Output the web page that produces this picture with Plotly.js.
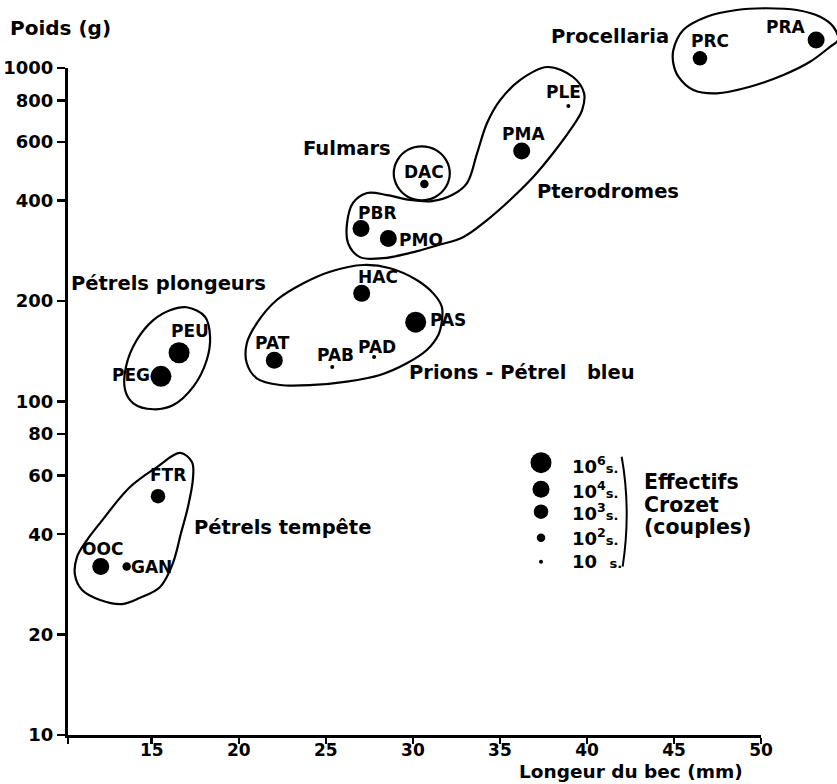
<!DOCTYPE html>
<html>
<head>
<meta charset="utf-8">
<script src="https://cdn.plot.ly/plotly-3.0.1.min.js"></script>
<style>html,body{margin:0;padding:0;background:#fff;}#chart{width:837px;height:784px;}</style>
</head>
<body>
<div id="chart"></div>
<script>
// ---------- data ----------
const species = ['PRA','PRC','PLE','PMA','DAC','PBR','PMO','HAC','PAS','PAT','PAB','PAD','PEU','PEG','FTR','OOC','GAN'];
const bec     = [53.16,46.49,38.93,36.25,30.66,27.02,28.59,27.06,30.16,22.04,25.37,27.77,16.57,15.53,15.36,12.07,13.56];
const poids   = [1213, 1069, 769, 564, 449, 330, 308, 211, 173, 133, 127, 136, 140, 119, 52, 32, 32];
const effectifExp = [4,3,1,4,2,4,4,4,6,4,1,1,6,6,3,4,2];   // log10 of couples at Crozet

const groupNames = ['Procellaria','Pterodromes','Fulmars','Prions - Pétrel\u00A0\u00A0\u00A0bleu','Pétrels plongeurs','Pétrels tempête'];
const groupLabelBec   = [41.32, 41.20, 26.22, 29.66, 15.96, 22.51];
const groupLabelPoids = [1239, 425, 575, 122, 226, 41.8];

// group outlines (bec mm, poids g)
const outlineProcellaria = [[44.96,1132],[45.53,1300],[46.88,1425],[48.60,1493],[50.32,1511],[52.05,1493],[53.39,1425],[54.15,1330],[54.42,1213],[53.96,1158],[52.81,1044],[51.28,953],[49.36,879],[47.45,840],[46.11,859],[45.25,942],[44.96,1032]];
const outlinePterodromes = [[37.71,1007],[39.20,940],[39.83,841],[39.72,748],[39.03,651],[38.06,556],[36.91,471],[35.58,402],[34.26,350],[32.88,311],[31.39,294],[29.84,279],[28.29,269],[26.96,271],[26.28,298],[26.22,343],[26.56,394],[27.37,422],[28.52,416],[29.84,402],[31.10,399],[32.25,416],[33.11,452],[33.69,556],[34.26,684],[35.01,801],[36.15,920]];
const outlineFulmars = [[32.12,483.4],[31.90,530.6],[31.31,568.2],[30.51,582.4],[29.70,568.2],[29.12,530.6],[28.90,483.4],[29.12,440.4],[29.70,411.4],[30.51,401.3],[31.31,411.4],[31.90,440.4]];
const outlinePrions = [[27.15,256.7],[28.69,250.9],[30.22,231.4],[31.17,211.0],[31.66,192.5],[31.66,173.5],[31.46,158.3],[30.80,142.7],[29.65,130.2],[28.11,120.1],[26.20,114.7],[24.28,112.1],[22.37,112.1],[21.03,117.4],[20.46,130.2],[20.46,149.5],[21.03,171.6],[22.18,201.5],[23.71,226.2],[25.24,245.0]];
const outlinePlongeurs = [[17.01,191.7],[18.06,179.6],[18.35,156.4],[18.16,133.2],[17.39,110.8],[16.24,97.6],[15.09,94.8],[13.94,98.8],[13.47,108.3],[13.52,127.2],[14.14,152.9],[15.09,175.5],[16.05,187.9]];
const outlineTempete = [[16.63,70.1],[17.31,65.9],[17.37,58.9],[17.08,48.3],[16.68,40.3],[16.22,32.8],[15.48,27.8],[14.33,25.8],[13.29,24.7],[12.03,25.4],[11.00,27.2],[10.59,30.2],[10.71,34.2],[11.28,38.4],[12.03,43.2],[13.75,55.4],[15.30,63.6]];

const xTickVals = [15,20,25,30,35,40,45,50];
const yTickVals = [10,20,40,60,80,100,200,400,600,800,1000];

const legendExp = [6,4,3,2,1];
const legendText = ['10<sup>6</sup>','10<sup>4</sup>','10<sup>3</sup>','10<sup>2</sup>','10\u00A0\u00A0'];

// ---------- styles / layout ----------
const FONT = 'DejaVu Sans';
const sizeByExp = {1:4, 2:8.5, 3:14.5, 4:17, 6:21};
const labelOffset = {PRA:[-30,13],PRC:[10,17],PLE:[-5,14],PMA:[2,17],DAC:[0,12],PBR:[16,16],PMO:[33,-1],HAC:[16,16],PAS:[32,2],PAT:[-2,17],PAB:[3,12],PAD:[3,10],PEU:[11,22],PEG:[-30,1],FTR:[10,21],OOC:[2,18],GAN:[25,0]};

const xMin = 10.19, xMax = 54.36;   // full plotting area in mm
const yLogMin = 1, yLogMax = 3.204;  // full plotting area in log10(g)
const axisXEnd = 50, axisYEnd = 1000;

const traces = [];
function outlineTrace(pts){
  const closed = pts.concat([pts[0]]);
  return {type:'scatter', mode:'lines', x:closed.map(p=>p[0]), y:closed.map(p=>p[1]),
    line:{color:'#000', width:2.2, shape:'spline', smoothing:1}, hoverinfo:'skip', showlegend:false};
}
[outlineProcellaria,outlinePterodromes,outlineFulmars,outlinePrions,outlinePlongeurs,outlineTempete].forEach(o=>traces.push(outlineTrace(o)));

traces.push({type:'scatter', mode:'markers', x:bec, y:poids, text:species,
  marker:{color:'#000', opacity:1, size:effectifExp.map(e=>sizeByExp[e]), line:{width:0}},
  cliponaxis:false, showlegend:false, hoverinfo:'text'});

// visible axes subplot (same scale, limited extent)
traces.push({type:'scatter', x:[], y:[], xaxis:'x2', yaxis:'y2', showlegend:false});

// size legend on overlay axes [0,1]
traces.push({type:'scatter', mode:'markers', xaxis:'x3', yaxis:'y3',
  x:legendExp.map(()=>0.6151), y:[0.3705,0.3343,0.3038,0.2684,0.2358],
  marker:{color:'#000', opacity:1, size:legendExp.map(e=>sizeByExp[e]), line:{width:0}},
  cliponaxis:false, showlegend:false, hoverinfo:'skip'});

const annotations = [];
species.forEach((s,i)=>{
  const o = labelOffset[s];
  annotations.push({xref:'x', yref:'y', x:bec[i], y:Math.log10(poids[i]), text:s, showarrow:false,
    xshift:o[0], yshift:o[1], font:{family:FONT, size:17, color:'#000', weight:'bold'}});
});
groupNames.forEach((g,i)=>{
  const left = g.startsWith('Prions');
  annotations.push({xref:'x', yref:'y', x:groupLabelBec[i], y:Math.log10(groupLabelPoids[i]), text:g, showarrow:false,
    xanchor: left ? 'left' : 'center', font:{family:FONT, size:19.5, color:'#000', weight:'bold'}});
});
const legendY = [0.3673,0.3333,0.3038,0.2698,0.2358];
legendText.forEach((t,i)=>{
  annotations.push({xref:'paper', yref:'paper', x:0.6528, y:legendY[i], xanchor:'left', yanchor:'middle', showarrow:false,
    text: t + "<span style='font-size:13px'>s.</span>", font:{family:FONT, size:18, color:'#000', weight:'bold'}});
});
['Effectifs','Crozet','(couples)'].forEach((t,i)=>{
  annotations.push({xref:'paper', yref:'paper', x:0.7459, y:[0.3446,0.3129,0.2830][i], xanchor:'left', yanchor:'middle', showarrow:false,
    text:t, font:{family:FONT, size:20.5, color:'#000', weight:'bold'}});
});
annotations.push({xref:'paper', yref:'paper', x:-0.078, y:0.962, xanchor:'left', yanchor:'middle', showarrow:false,
  text:'Poids (g)', font:{family:FONT, size:20, color:'#000', weight:'bold'}});
annotations.push({xref:'paper', yref:'paper', x:0.5839, y:-0.0664, xanchor:'left', yanchor:'bottom', showarrow:false,
  text:'Longeur du bec (mm)', font:{family:FONT, size:18.5, color:'#000', weight:'bold'}});

const tickFont = {family:FONT, size:18, color:'#000', weight:'bold'};
const xTickFont = {family:FONT, size:17, color:'#000', weight:'bold'};
const layout = {
  width:837, height:784,
  margin:{l:68, r:0, t:0, b:49},
  paper_bgcolor:'#fff', plot_bgcolor:'rgba(0,0,0,0)',
  showlegend:false,
  xaxis:{domain:[0,1], range:[xMin,xMax], visible:false, fixedrange:true},
  yaxis:{domain:[0,1], type:'log', range:[yLogMin,yLogMax], visible:false, fixedrange:true},
  xaxis2:{domain:[0,(axisXEnd-xMin)/(xMax-xMin)], range:[xMin,axisXEnd], anchor:'y2',
    showline:true, linewidth:3, linecolor:'#000', ticks:'outside', ticklen:6, tickwidth:2.5, tickcolor:'#000',
    ticklabelstandoff:-8,
    tickvals:[xMin].concat(xTickVals), ticktext:[' '].concat(xTickVals.map(String)),
    showgrid:false, zeroline:false, tickfont:xTickFont, fixedrange:true},
  yaxis2:{domain:[0,(Math.log10(axisYEnd)-yLogMin)/(yLogMax-yLogMin)], type:'log', range:[yLogMin,Math.log10(axisYEnd)], anchor:'x2',
    showline:true, linewidth:3, linecolor:'#000', ticks:'outside', ticklen:8, tickwidth:2.5, tickcolor:'#000',
    tickvals:yTickVals, ticktext:yTickVals.map(String),
    showgrid:false, zeroline:false, tickfont:tickFont, fixedrange:true},
  xaxis3:{overlaying:'x', anchor:'y3', range:[0,1], visible:false, fixedrange:true},
  yaxis3:{overlaying:'y', anchor:'x3', range:[0,1], visible:false, fixedrange:true},
  annotations:annotations,
  shapes:[{type:'path', xref:'paper', yref:'paper', path:'M 0.720 0.3786 Q 0.7324 0.3058 0.7213 0.229',
    line:{color:'#000', width:2}}]
};
Plotly.newPlot('chart', traces, layout, {staticPlot:true, displayModeBar:false});
</script>
</body>
</html>
